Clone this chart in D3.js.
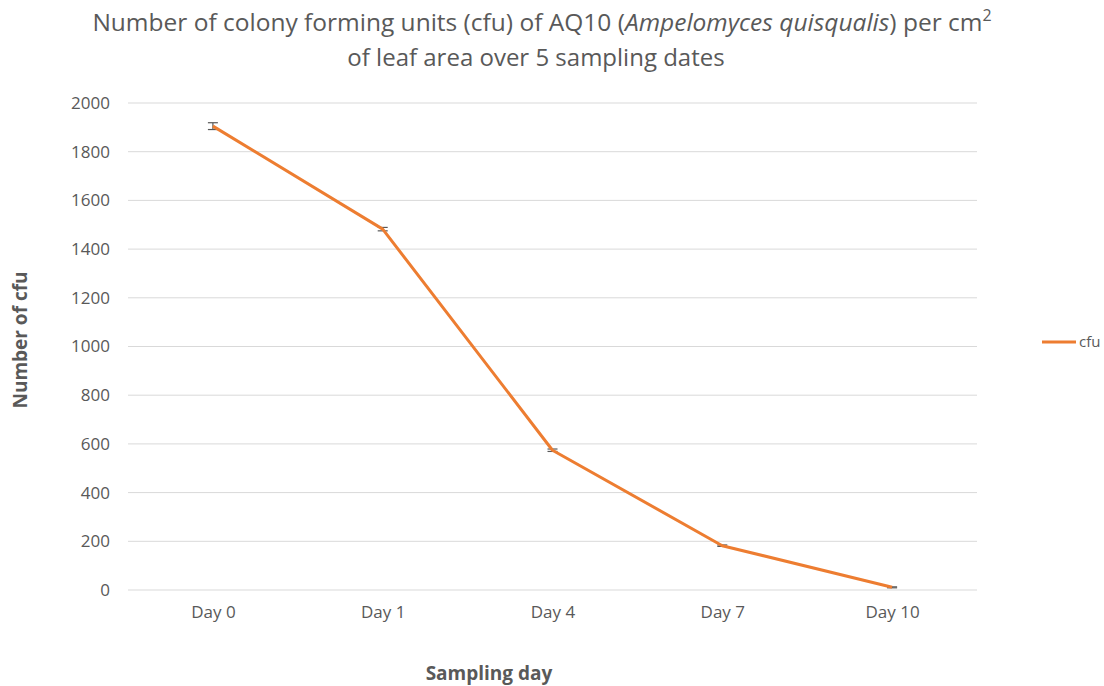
<!DOCTYPE html>
<html>
<head>
<meta charset="utf-8">
<script src="https://cdn.jsdelivr.net/npm/d3@7"></script>
<style>
  body { margin: 0; background: #fff; }
  text { font-family: "Open Sans", "Liberation Sans", sans-serif; fill: #595959; }
</style>
</head>
<body>
<div id="chart"></div>
<script>
// chart data
var days = ["Day 0", "Day 1", "Day 4", "Day 7", "Day 10"];
var cfu = [1905, 1482, 574, 182, 11];
var cfuErr = [14, 7, 5, 3, 2];
var yTicks = [0, 200, 400, 600, 800, 1000, 1200, 1400, 1600, 1800, 2000];

var svgWidth = 1104;
var svgHeight = 686;
var margin = { top: 103, right: 127, bottom: 96, left: 128 };
var chartWidth = svgWidth - margin.left - margin.right;
var chartHeight = svgHeight - margin.top - margin.bottom;

var svg = d3.select("#chart").append("svg")
  .attr("width", svgWidth)
  .attr("height", svgHeight);

var chartGroup = svg.append("g")
  .attr("transform", `translate(${margin.left}, ${margin.top})`);

var xScale = d3.scalePoint()
  .domain(days)
  .range([0, chartWidth])
  .padding(0.5);

var yScale = d3.scaleLinear()
  .domain([0, 2000])
  .range([chartHeight, 0]);

// gridlines
chartGroup.append("g")
  .selectAll("line")
  .data(yTicks)
  .enter()
  .append("line")
  .attr("x1", 0)
  .attr("x2", chartWidth)
  .attr("y1", d => yScale(d))
  .attr("y2", d => yScale(d))
  .attr("stroke", "#d9d9d9")
  .attr("stroke-width", 1);

// y axis labels
var leftAxis = d3.axisLeft(yScale)
  .tickValues(yTicks)
  .tickFormat(d3.format("d"))
  .tickSize(0)
  .tickPadding(18);
chartGroup.append("g")
  .call(leftAxis)
  .call(g => g.select(".domain").remove())
  .selectAll("text")
  .style("font-size", "17px")
  .attr("fill", "#595959");

// x axis labels
var bottomAxis = d3.axisBottom(xScale).tickSize(0).tickPadding(16);
chartGroup.append("g")
  .attr("transform", `translate(0, ${chartHeight})`)
  .call(bottomAxis)
  .call(g => g.select(".domain").remove())
  .selectAll("text")
  .style("font-size", "17px")
  .attr("fill", "#595959");

// error bars
var errGroup = chartGroup.append("g").attr("stroke", "#595959").attr("stroke-width", 1.2);
days.forEach(function(d, i) {
  var x = xScale(d);
  var yTop = yScale(cfu[i] + cfuErr[i]);
  var yBot = yScale(cfu[i] - cfuErr[i]);
  errGroup.append("line").attr("x1", x).attr("x2", x).attr("y1", yTop).attr("y2", yBot);
  errGroup.append("line").attr("x1", x - 5).attr("x2", x + 5).attr("y1", yTop).attr("y2", yTop);
  errGroup.append("line").attr("x1", x - 5).attr("x2", x + 5).attr("y1", yBot).attr("y2", yBot);
});

// the line
var line = d3.line()
  .x((d, i) => xScale(days[i]))
  .y(d => yScale(d));

chartGroup.append("path")
  .datum(cfu)
  .attr("d", line)
  .attr("fill", "none")
  .attr("stroke", "#ed7d31")
  .attr("stroke-width", 3)
  .attr("stroke-linejoin", "round");

// title
var title = svg.append("text")
  .attr("x", 542)
  .attr("y", 31)
  .attr("text-anchor", "middle")
  .style("font-size", "24.5px");
title.append("tspan").text("Number of colony forming units (cfu) of AQ10 (");
title.append("tspan").style("font-style", "italic").text("Ampelomyces quisqualis");
title.append("tspan").text(") per cm");
title.append("tspan").attr("dy", -10).style("font-size", "16px").text("2");

svg.append("text")
  .attr("x", 536)
  .attr("y", 66)
  .attr("text-anchor", "middle")
  .style("font-size", "24px")
  .text("of leaf area over 5 sampling dates");

// axis titles
svg.append("text")
  .attr("transform", "translate(27, 340) rotate(-90)")
  .attr("text-anchor", "middle")
  .style("font-size", "19px")
  .style("font-weight", "bold")
  .text("Number of cfu");

svg.append("text")
  .attr("x", 489)
  .attr("y", 680)
  .attr("text-anchor", "middle")
  .style("font-size", "19px")
  .style("font-weight", "bold")
  .text("Sampling day");

// legend
svg.append("line")
  .attr("x1", 1042).attr("x2", 1076)
  .attr("y1", 342).attr("y2", 342)
  .attr("stroke", "#ed7d31")
  .attr("stroke-width", 3);

svg.append("text")
  .attr("x", 1079)
  .attr("y", 347)
  .style("font-size", "15px")
  .text("cfu");
</script>
</body>
</html>
